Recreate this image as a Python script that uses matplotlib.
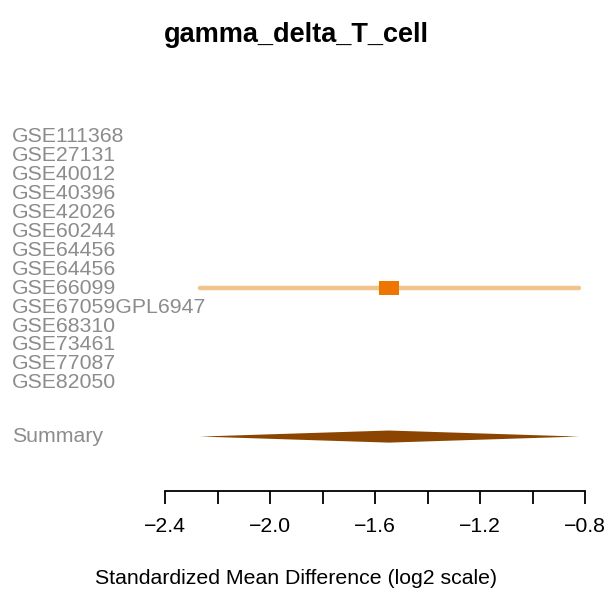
import matplotlib
matplotlib.use("Agg")
import matplotlib.pyplot as plt
import matplotlib.transforms as mtransforms
import numpy as np

plt.rcParams['font.family'] = ['Liberation Sans', 'DejaVu Sans']

# study labels (top to bottom)
studies = ["GSE111368", "GSE27131", "GSE40012", "GSE40396", "GSE42026", "GSE60244",
           "GSE64456", "GSE64456", "GSE66099", "GSE67059GPL6947", "GSE68310",
           "GSE73461", "GSE77087", "GSE82050"]
# only one study has an estimate for this cell type
est_row = 8
est_mean = -1.547
est_lo = -2.267
est_hi = -0.823
# summary
sum_mean = -1.547
sum_lo = -2.267
sum_hi = -0.823

xticks = np.arange(-2.4, -0.79, 0.2)
xtick_labels = [f"{t:.1f}".replace("-", "\u2212") if i % 2 == 0 else "" for i, t in enumerate(xticks)]

W, H = 605, 589
fig = plt.figure(figsize=(W / 100, H / 100), dpi=100)

ax_left, ax_right = 165, 585
ax_top, ax_bot = 120, 491
ax = fig.add_axes([ax_left / W, 1 - ax_bot / H, (ax_right - ax_left) / W, (ax_bot - ax_top) / H])

row_px0, row_step = 137, 18.9
ax.set_xlim(-2.4, -0.8)
ax.set_ylim((ax_bot - row_px0) / row_step, (ax_top - row_px0) / row_step)

fs = 15.3
trans = mtransforms.blended_transform_factory(fig.transFigure, ax.transData)
for i, s in enumerate(studies):
    ax.text(12 / W, i, s, transform=trans, ha="left", va="center",
            fontsize=fs, color="#8c8c8c", clip_on=False)

ax.plot([est_lo, est_hi], [est_row, est_row], color="#f1c48d", lw=3.2,
        solid_capstyle="round", zorder=2)
bw, bh = 0.038, 0.37
ax.fill([est_mean - bw, est_mean + bw, est_mean + bw, est_mean - bw],
        [est_row - bh, est_row - bh, est_row + bh, est_row + bh],
        color="#ee7600", lw=0, zorder=3)

sum_y = 15.85
ax.text(12 / W, sum_y, "Summary", transform=trans, ha="left", va="center",
        fontsize=fs, color="#8c8c8c", clip_on=False)
half_h = 0.32
ax.fill([sum_lo, sum_mean, sum_hi, sum_mean], [sum_y, sum_y - half_h, sum_y, sum_y + half_h],
        color="#8b4500", lw=0, zorder=3)

for sp in ["top", "left", "right"]:
    ax.spines[sp].set_visible(False)
ax.spines["bottom"].set_linewidth(1.3)
ax.set_yticks([])
ax.set_xticks(xticks)
ax.set_xticklabels(xtick_labels, fontsize=fs)
ax.tick_params(axis="x", length=9, width=1.3, pad=10)

fig.text(296 / W, 1 - 35 / H, "gamma_delta_T_cell", ha="center", va="center",
         fontsize=19.5, fontweight="bold")
fig.text(296 / W, 1 - 578 / H, "Standardized Mean Difference (log2 scale)", ha="center",
         va="center", fontsize=fs)

fig.savefig("out.png", dpi=100, facecolor="white")
